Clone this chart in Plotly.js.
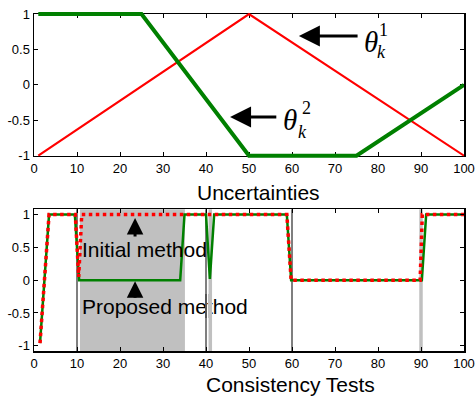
<!DOCTYPE html>
<html>
<head>
<meta charset="utf-8">
<script src="https://cdn.plot.ly/plotly-3.0.1.min.js"></script>
<style>html,body{margin:0;padding:0;background:#fff;}#chart{width:476px;height:396px;}</style>
</head>
<body>
<div id="chart"></div>
<script>
// ---------- data ----------
// top panel: uncertainties
const theta1X = [1, 50, 100];
const theta1Y = [-1, 1, -1];
const theta2X = [1, 25, 50, 75, 100];
const theta2Y = [1, 1, -1, -1, 0];

// bottom panel: consistency tests
const proposedX = [1.4, 3.5, 9.5, 10.5, 34, 35, 40, 40.9, 41.9, 58.8, 59.8, 90.2, 91.2, 100];
const proposedY = [-0.96, 1, 1, 0, 0, 1, 1, 0.02, 1, 1, 0, 0, 1, 1];
const initialX = [1.4, 3.5, 9.6, 10.4, 11.1, 58.8, 59.8, 89.8, 90.3, 100];
const initialY = [-0.96, 1, 1, 0.05, 1, 1, 0, 0, 1, 1];

// markers in bottom panel
const shadedRegion = [10.7, 35.1];
const darkMarkers = [10, 40, 60];
const lightMarkers = [41, 90];

// ticks
const xTickVals = [0, 10, 20, 30, 40, 50, 60, 70, 80, 90, 100];
const yTickVals = [-1, -0.5, 0, 0.5, 1];
const yTickText = ['-1', '-0.5', '0', '0.5', '1'];

// labels
const topXTitle = 'Uncertainties';
const bottomXTitle = 'Consistency Tests';
const initialLabel = 'Initial method';
const proposedLabel = 'Proposed method';

// ---------- layout geometry ----------
const W = 476, H = 396;
const M = {l: 34, r: 12, t: 4, b: 35};
const plotW = W - M.l - M.r;
const plotH = H - M.t - M.b;
const frac = py => (H - M.b - py) / plotH;
const fracX = px => (px - M.l) / plotW;
const topY = [frac(155.7), frac(14)];
const botY = [frac(351), frac(209.3)];
const ext = 4 / plotH;                       // extra clip room for thick lines
const topRange = [-1, 1];
const unitsPerFrac = (topRange[1] - topRange[0]) / (topY[1] - topY[0]);
const topYExt = [topY[0] - ext, topY[1] + ext];
const topRangeExt = [topRange[0] - ext * unitsPerFrac, topRange[1] + ext * unitsPerFrac];
const botRange = [-1.08, 1.08];

const sans = 'Liberation Sans, Arial, sans-serif';
const serif = 'Liberation Serif, Times New Roman, serif';
const tickFont = {family: sans, size: 13, color: '#000'};
const titleFont = {family: sans, size: 21, color: '#000'};

const axisCommon = {
  showline: true, linecolor: '#000', linewidth: 1.5, mirror: 'ticks',
  ticks: 'inside', ticklen: 4, tickwidth: 1, tickcolor: '#000',
  showgrid: false, zeroline: false, tickfont: tickFont
};

const traces = [
  {x: theta1X, y: theta1Y, xaxis: 'x', yaxis: 'y3', mode: 'lines',
   line: {color: '#ff0000', width: 2.2}},
  {x: theta2X, y: theta2Y, xaxis: 'x', yaxis: 'y3', mode: 'lines',
   line: {color: '#008000', width: 4}},
  {x: proposedX, y: proposedY, xaxis: 'x2', yaxis: 'y2', mode: 'lines',
   line: {color: '#008000', width: 2.5}},
  {x: initialX, y: initialY, xaxis: 'x2', yaxis: 'y2', mode: 'lines',
   line: {color: '#ff0000', width: 3.5, dash: 'dot'}}
];

const darkColor = '#555555', lightColor = '#c0c0c0';
const darkW = 1.5, lightW = 3.5;
const shapes = [];
shapes.push({type: 'rect', xref: 'x2', yref: 'y2 domain', x0: shadedRegion[0], x1: shadedRegion[1],
  y0: 0, y1: 1, fillcolor: lightColor, line: {width: 0}, layer: 'below'});
lightMarkers.forEach(v => shapes.push({type: 'line', xref: 'x2', yref: 'y2 domain', x0: v, x1: v,
  y0: 0, y1: 1, line: {color: lightColor, width: lightW}, layer: 'below'}));
darkMarkers.forEach(v => shapes.push({type: 'line', xref: 'x2', yref: 'y2 domain', x0: v, x1: v,
  y0: 0, y1: 1, line: {color: darkColor, width: darkW}, layer: 'below'}));

const arrow = (xr, yr, x, y, ax, ay, sz) => ({xref: xr, yref: yr, axref: xr, ayref: yr,
  x: x, y: y, ax: ax, ay: ay, text: '', showarrow: true,
  arrowhead: 2, arrowsize: sz, arrowwidth: 3, arrowcolor: '#000', standoff: 0});
const txt = (xr, yr, x, y, t, font, xa) => ({xref: xr, yref: yr, x: x, y: y, text: t,
  showarrow: false, font: font, xanchor: xa || 'center', yanchor: 'middle'});
// marker lines pass over the lower label, as in the reference
const bar = (x, w, c) => ({xref: 'x2', yref: 'y2', x: x, y: -0.40, text: ' ', showarrow: false,
  width: w, height: 24, bgcolor: c, borderpad: 0, borderwidth: 0,
  xanchor: 'center', yanchor: 'middle', font: {size: 4}});

const thetaFont = {family: serif, size: 29, color: '#000'};
const smallFont = {family: serif, size: 18, color: '#000'};
const labelFont = {family: sans, size: 21, color: '#000'};

const annotations = [
  arrow('x', 'y', 61.6, 0.69, 75.6, 0.69, 1.4),
  txt('x', 'y', 78.4, 0.60, '<i>θ</i>', thetaFont),
  txt('x', 'y', 80.9, 0.47, '<i>k</i>', smallFont),
  txt('x', 'y', 81.2, 0.78, '1', smallFont),
  arrow('x', 'y', 45.6, -0.454, 56.7, -0.454, 1.4),
  txt('x', 'y', 59.5, -0.49, '<i>θ</i>', thetaFont),
  txt('x', 'y', 62.5, -0.66, '<i>k</i>', smallFont),
  txt('x', 'y', 63.4, -0.32, '2', smallFont),
  arrow('x2', 'y2', 23.5, 0.948, 23.5, 0.643, 1.1),
  arrow('x2', 'y2', 23.5, -0.018, 23.5, -0.293, 1.1),
  txt('x2', 'y2', 10.8, 0.469, initialLabel, labelFont, 'left'),
  txt('x2', 'y2', 10.8, -0.397, proposedLabel, labelFont, 'left'),
  bar(darkMarkers[1], darkW, darkColor),
  bar(lightMarkers[0], lightW, lightColor),
  txt('paper', 'paper', fracX(258.5), frac(192), topXTitle, titleFont),
  txt('paper', 'paper', fracX(290), frac(384), bottomXTitle, titleFont)
];

const layout = {
  width: W, height: H, margin: M, showlegend: false,
  paper_bgcolor: '#fff', plot_bgcolor: 'rgba(0,0,0,0)',
  xaxis: Object.assign({}, axisCommon, {domain: [0, 1], range: [0, 100], anchor: 'y',
    tickvals: xTickVals}),
  yaxis: Object.assign({}, axisCommon, {domain: topY, range: topRange, anchor: 'x',
    tickvals: yTickVals, ticktext: yTickText}),
  yaxis3: {domain: topYExt, range: topRangeExt, anchor: 'x', visible: false, fixedrange: true},
  xaxis2: Object.assign({}, axisCommon, {domain: [0, 1], range: [0, 100], anchor: 'y2',
    tickvals: xTickVals}),
  yaxis2: Object.assign({}, axisCommon, {domain: botY, range: botRange, anchor: 'x2',
    tickvals: yTickVals, ticktext: yTickText}),
  shapes: shapes,
  annotations: annotations
};

Plotly.newPlot('chart', traces, layout, {staticPlot: true, displayModeBar: false});
</script>
</body>
</html>
